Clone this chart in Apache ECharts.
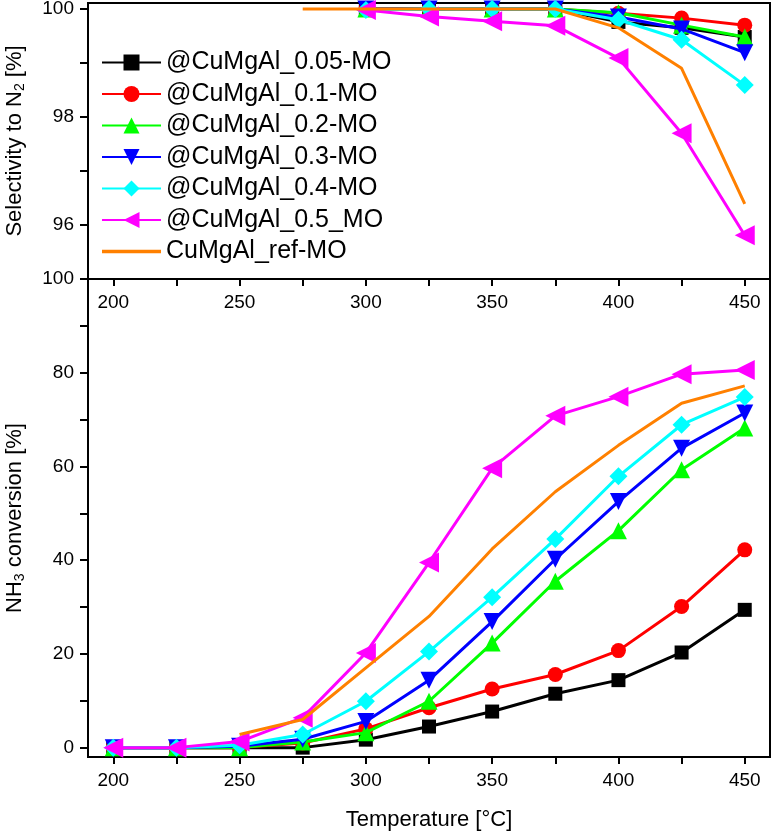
<!DOCTYPE html>
<html>
<head>
<meta charset="utf-8">
<script src="https://cdn.jsdelivr.net/npm/echarts@6/dist/echarts.min.js"></script>
<style>
html,body{margin:0;padding:0;background:#fff;}
#chart{width:774px;height:833px;}
</style>
</head>
<body>
<div id="chart"></div>
<script>
// ---- data ----
const temps = [200, 225, 250, 275, 300, 325, 350, 375, 400, 425, 450];
const selTemps = [300, 325, 350, 375, 400, 425, 450];
const selTempsRef = [275, 300, 325, 350, 375, 400, 425, 450];

const seriesNames = ['@CuMgAl_0.05-MO', '@CuMgAl_0.1-MO', '@CuMgAl_0.2-MO', '@CuMgAl_0.3-MO', '@CuMgAl_0.4-MO', '@CuMgAl_0.5_MO', 'CuMgAl_ref-MO'];

// NH3 conversion [%]
const conv005 = [0, 0, 0, 0, 1.7, 4.5, 7.7, 11.5, 14.4, 20.3, 29.4];
const conv01  = [0, 0, 0, 1.0, 4.0, 8.5, 12.5, 15.6, 20.7, 30.1, 42.2];
const conv02  = [0, 0, 0, 1.2, 3.2, 9.9, 22.3, 35.5, 46.3, 59.3, 68.2];
const conv03  = [0, 0, 0.3, 1.8, 5.6, 14.4, 26.9, 40.2, 52.5, 63.9, 71.4];
const conv04  = [0, 0, 0.5, 2.8, 9.9, 20.5, 32.1, 44.5, 57.9, 68.9, 74.8];
const conv05  = [0, 0, 1.3, 6.4, 20.2, 39.5, 59.6, 70.8, 74.9, 79.7, 80.6];
const convRef = [null, null, 2.8, 6.0, 17.0, 28.0, 42.4, 54.6, 64.5, 73.5, 77.2];

// Selectivity to N2 [%]
const sel005 = [100, 100, 100, 100, 99.76, 99.65, 99.48];
const sel01  = [100, 100, 100, 100, 99.92, 99.83, 99.70];
const sel02  = [100, 100, 100, 100, 99.93, 99.70, 99.48];
const sel03  = [100, 100, 100, 100, 99.85, 99.63, 99.19];
const sel04  = [99.98, 100, 100, 100, 99.80, 99.43, 98.59];
const sel05  = [99.98, 99.86, 99.77, 99.69, 99.09, 97.70, 95.81];
const selRef = [100, 100, 100, 100, 100, 99.65, 98.90, 96.39];

// tick labels
const xLabels = [200, 250, 300, 350, 400, 450];
const xTicks = [200, 225, 250, 275, 300, 325, 350, 375, 400, 425, 450];
const convLabels = [0, 20, 40, 60, 80, 100];
const convTicks = [0, 10, 20, 30, 40, 50, 60, 70, 80, 90, 100];
const selLabels = [96, 98, 100];
const selTicks = [95, 96, 97, 98, 99, 100];

// ---- styles ----
const colors = ['#000000', '#ff0000', '#00ff00', '#0000ff', '#00ffff', '#ff00ff', '#ff8000'];
const symbols = ['rect', 'circle', 'triangle', 'triangle', 'diamond', 'triangle', 'none'];
const rotates = [0, 0, 0, 180, 0, 90, 0];
const sizes = [14, 15, 17, 17, 18, 20, 0];

const convData = [conv005, conv01, conv02, conv03, conv04, conv05, convRef];
const selData = [sel005, sel01, sel02, sel03, sel04, sel05, selRef];

const FONT = '"Liberation Sans", Arial, sans-serif';

function pairs(xs, ys) {
  const out = [];
  for (let i = 0; i < xs.length; i++) if (ys[i] !== null) out.push([xs[i], ys[i]]);
  return out;
}

const series = [];
for (let k = 0; k < 7; k++) {
  const common = {
    name: seriesNames[k],
    type: 'line',
    symbol: symbols[k],
    symbolSize: sizes[k],
    symbolRotate: rotates[k],
    showSymbol: symbols[k] !== 'none',
    lineStyle: { color: colors[k], width: 3 },
    itemStyle: { color: colors[k] },
    animation: false,
    z: 2 + k
  };
  series.push(Object.assign({}, common, {
    xAxisIndex: 0, yAxisIndex: 0,
    data: pairs(k === 6 ? selTempsRef : selTemps, selData[k])
  }));
  series.push(Object.assign({}, common, {
    xAxisIndex: 1, yAxisIndex: 1,
    data: pairs(temps, convData[k])
  }));
}

const legendData = seriesNames.map(function (n, k) {
  if (symbols[k] === 'none') {
    return { name: n, icon: 'path://M0,0L59,0L59,3.5L0,3.5Z', itemStyle: { color: colors[k] } };
  }
  return { name: n };
});

function xAxis(gridIndex, withName) {
  return {
    type: 'value', gridIndex: gridIndex, min: 190, max: 460,
    axisLine: { show: true, onZero: false, lineStyle: { color: '#000', width: 2 } },
    axisTick: { show: true, inside: false, length: 7, customValues: xTicks, lineStyle: { color: '#000', width: 2 } },
    axisLabel: { show: true, customValues: xLabels, margin: 14, color: '#000', fontSize: 19, fontFamily: FONT },
    splitLine: { show: false },
    name: withName ? 'Temperature [°C]' : '',
    nameLocation: 'middle', nameGap: 52,
    nameTextStyle: { color: '#000', fontSize: 22, fontFamily: FONT }
  };
}

const subRich = { sub: { fontSize: 14, color: '#000', fontFamily: FONT, verticalAlign: 'bottom', padding: [10, 0, 0, 0] } };

const option = {
  backgroundColor: '#ffffff',
  animation: false,
  grid: [
    { left: 88, right: 4, top: 3, height: 276, show: true, borderColor: '#000', borderWidth: 2, backgroundColor: 'transparent', containLabel: false, outerBoundsMode: 'none' },
    { left: 88, right: 4, top: 279, bottom: 76, show: true, borderColor: '#000', borderWidth: 2, backgroundColor: 'transparent', containLabel: false, outerBoundsMode: 'none' }
  ],
  xAxis: [xAxis(0, false), xAxis(1, true)],
  yAxis: [
    {
      type: 'value', gridIndex: 0, min: 95, max: 100.11,
      axisLine: { show: true, lineStyle: { color: '#000', width: 2 } },
      axisTick: { show: true, length: 8, customValues: selTicks, lineStyle: { color: '#000', width: 2 } },
      axisLabel: { customValues: selLabels, margin: 14, color: '#000', fontSize: 19, fontFamily: FONT },
      splitLine: { show: false },
      name: 'Selectivity to N{sub|2} [%]',
      nameLocation: 'middle', nameGap: 61, nameRotate: 90,
      nameTextStyle: { color: '#000', fontSize: 22, fontFamily: FONT, rich: subRich }
    },
    {
      type: 'value', gridIndex: 1, min: -2, max: 100,
      axisLine: { show: true, lineStyle: { color: '#000', width: 2 } },
      axisTick: { show: true, length: 8, customValues: convTicks, lineStyle: { color: '#000', width: 2 } },
      axisLabel: { customValues: convLabels, margin: 14, color: '#000', fontSize: 19, fontFamily: FONT },
      splitLine: { show: false },
      name: 'NH{sub|3} conversion [%]',
      nameLocation: 'middle', nameGap: 61, nameRotate: 90,
      nameTextStyle: { color: '#000', fontSize: 22, fontFamily: FONT, rich: subRich }
    }
  ],
  legend: {
    show: true,
    orient: 'vertical',
    left: 96, top: 44,
    itemWidth: 59, itemHeight: 20, itemGap: 4.5,
    data: legendData,
    textStyle: { color: '#000', fontSize: 25, fontFamily: FONT, lineHeight: 27 },
    backgroundColor: 'transparent'
  },
  series: series
};

const chart = echarts.init(document.getElementById('chart'), null, { renderer: 'canvas' });
chart.setOption(option);
</script>
</body>
</html>
